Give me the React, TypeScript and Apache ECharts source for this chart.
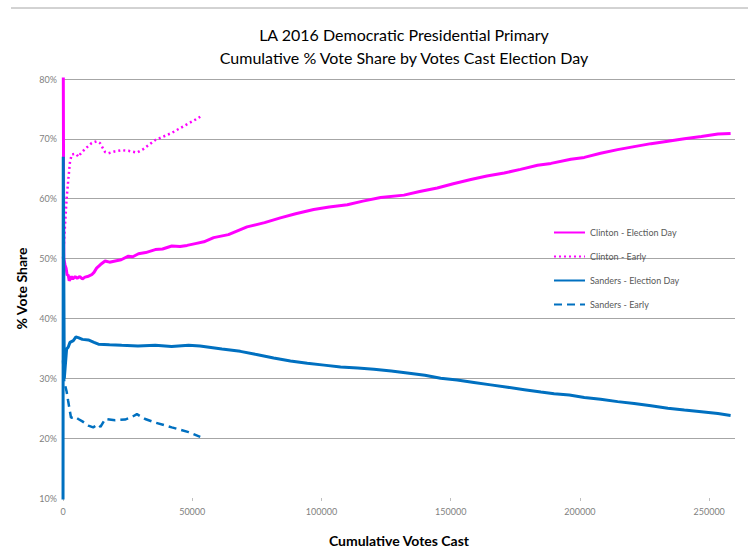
import React, { useEffect, useRef } from "react";
import * as echarts from "echarts";

const titleLines = [
  "LA 2016 Democratic Presidential Primary",
  "Cumulative % Vote Share by Votes Cast Election Day",
];
const yTicks = [10, 20, 30, 40, 50, 60, 70, 80];
const xTicks = [0, 50000, 100000, 150000, 200000, 250000];
const seriesNames = [
  "Clinton - Election Day",
  "Clinton - Early",
  "Sanders - Election Day",
  "Sanders - Early",
];

const clintonElectionDay: [number, number][] = [
  [0, 100], [300, 50], [800, 48.9], [1200, 48.4], [1600, 47.2], [2000, 47.3], [2400, 46.3],
  [2700, 46.5], [3300, 47.0], [3800, 46.6], [4700, 47.0], [5500, 46.7], [6500, 47.0],
  [7500, 46.6], [8500, 46.9], [9500, 47.0], [11100, 47.3], [12000, 47.7], [13000, 48.4],
  [14500, 49.0], [16300, 49.6], [18000, 49.4], [20200, 49.6], [22500, 49.8], [25300, 50.4],
  [27000, 50.3], [29200, 50.8], [32000, 51.0], [35700, 51.5], [38500, 51.6], [42100, 52.1],
  [45300, 52.0], [48000, 52.2], [51200, 52.5], [54500, 52.8], [58300, 53.5], [64000, 54.0],
  [71200, 55.3], [78000, 56.0], [84100, 56.8], [90000, 57.5], [97000, 58.2], [103000, 58.6],
  [110000, 59.0], [116000, 59.6], [122900, 60.2], [131900, 60.6], [138000, 61.2],
  [144800, 61.8], [151000, 62.5], [157800, 63.2], [164000, 63.8], [170700, 64.3],
  [177000, 64.9], [183600, 65.6], [188800, 65.9], [196500, 66.6], [201700, 66.9],
  [208000, 67.6], [214600, 68.2], [221000, 68.7], [227500, 69.2], [234000, 69.6],
  [240400, 70.0], [247000, 70.4], [253400, 70.8], [258300, 70.9],
];

const clintonEarly: [number, number][] = [
  [0, 50], [300, 52], [700, 55], [1400, 60], [2100, 63.4], [2700, 66.2], [3400, 67.4],
  [5000, 67.5], [6000, 67.0], [6600, 67.4], [8500, 68.3], [11100, 69.3], [13000, 69.6],
  [14300, 69.3], [16300, 67.8], [17600, 67.6], [20000, 67.9], [22700, 68.1], [25300, 68.0],
  [28600, 67.7], [31100, 68.3], [35700, 69.8], [42100, 71.0], [47000, 72.2], [51200, 73.2],
  [53100, 73.7],
];

const sandersElectionDay: [number, number][] = [
  [0, 0], [100, 67], [500, 30], [800, 31.6], [1400, 34.9], [2000, 35.2], [2700, 36.0],
  [4000, 36.3], [5000, 36.9], [5900, 36.8], [7500, 36.5], [9800, 36.4], [12000, 36.0],
  [13700, 35.7], [18000, 35.6], [22700, 35.5], [29000, 35.4], [35700, 35.5], [42000, 35.3],
  [48600, 35.5], [53000, 35.4], [61500, 34.9], [68600, 34.5], [74400, 34.0], [81500, 33.4],
  [88000, 32.9], [94500, 32.5], [101000, 32.2], [107400, 31.9], [114000, 31.7],
  [120300, 31.5], [127000, 31.2], [133200, 30.9], [140000, 30.5], [146100, 30.0],
  [152500, 29.7], [159000, 29.3], [165500, 28.9], [172000, 28.5], [178500, 28.1],
  [184900, 27.7], [190000, 27.4], [195900, 27.2], [201700, 26.8], [208000, 26.5],
  [214600, 26.1], [221000, 25.8], [227500, 25.4], [234000, 25.0], [240400, 24.7],
  [247000, 24.4], [253400, 24.1], [258300, 23.8],
];

const sandersEarly: [number, number][] = [
  [0, 33], [500, 29.4], [1000, 28.5], [1400, 27.8], [2000, 26.2], [3100, 23.4], [4500, 23.6],
  [5900, 23.2], [7500, 22.8], [9800, 22.1], [11700, 21.8], [13500, 22.3], [14500, 21.9],
  [16300, 23.2], [20200, 23.0], [24000, 23.1], [26500, 23.5], [28600, 24.0], [31800, 23.2],
  [35700, 22.6], [42100, 21.8], [48600, 21.0], [53100, 20.2],
];

const MAGENTA = "#FF00FF";
const BLUE = "#0070C0";
const FONT = "Lato, 'Open Sans', sans-serif";

export default function App() {
  const ref = useRef<HTMLDivElement>(null);
  useEffect(() => {
    if (!ref.current) return;
    const chart = echarts.init(ref.current, null, { renderer: "svg" });
    const gridColors = yTicks.map((_, i) => (i === 0 ? "rgba(0,0,0,0)" : "#a6a6a6"));
    chart.setOption({
      animation: false,
      backgroundColor: "#ffffff",
      textStyle: { fontFamily: FONT },
      title: {
        text: titleLines.join("\n"),
        left: 399,
        top: 18,
        textAlign: "center",
        textStyle: { fontFamily: FONT, fontSize: 16, fontWeight: "normal", color: "#000", lineHeight: 23 },
      },
      graphic: [
        { type: "line", shape: { x1: 11, y1: 8, x2: 748, y2: 8 }, style: { stroke: "#a6a6a6", lineWidth: 1 } },
      ],
      legend: {
        orient: "vertical",
        left: 548,
        top: 223,
        itemWidth: 31,
        itemHeight: 10,
        itemGap: 15,
        itemStyle: { color: "rgba(0,0,0,0)", borderWidth: 0, opacity: 0 },
        textStyle: { fontFamily: FONT, fontSize: 9, color: "#595959" },
        data: seriesNames,
      },
      grid: { left: 63, right: 13, top: 79, bottom: 47, containLabel: false },
      xAxis: {
        type: "value",
        min: 0,
        max: 260000,
        interval: 50000,
        name: "Cumulative Votes Cast",
        nameLocation: "middle",
        nameGap: 35,
        nameTextStyle: { fontFamily: FONT, fontSize: 14, fontWeight: "bold", color: "#000" },
        axisLine: { show: false },
        axisTick: { show: true, length: 3, lineStyle: { color: "#bfbfbf" } },
        axisLabel: {
          showMaxLabel: false,
          fontSize: 9,
          color: "#7f7f7f",
          margin: 9,
          formatter: (v: number) => (xTicks.includes(v) ? String(v) : ""),
        },
        splitLine: { show: false },
      },
      yAxis: {
        type: "value",
        min: 10,
        max: 80,
        interval: 10,
        name: "% Vote Share",
        nameLocation: "middle",
        nameGap: 33,
        nameRotate: 90,
        nameTextStyle: { fontFamily: FONT, fontSize: 14, fontWeight: "bold", color: "#000" },
        axisLine: { show: false },
        axisTick: { show: false },
        axisLabel: { fontSize: 9, color: "#7f7f7f", margin: 6, formatter: "{value}%" },
        splitLine: { show: true, lineStyle: { color: gridColors, width: 1 } },
      },
      series: [
        {
          name: seriesNames[0],
          type: "line",
          data: clintonElectionDay,
          symbol: "none",
          clip: true,
          lineStyle: { color: MAGENTA, width: 3 },
          itemStyle: { color: MAGENTA },
        },
        {
          name: seriesNames[1],
          type: "line",
          data: clintonEarly,
          symbol: "none",
          clip: true,
          lineStyle: { color: MAGENTA, width: 2.5, type: [2, 3] },
          itemStyle: { color: MAGENTA },
        },
        {
          name: seriesNames[2],
          type: "line",
          data: sandersElectionDay,
          symbol: "none",
          clip: true,
          lineStyle: { color: BLUE, width: 3 },
          itemStyle: { color: BLUE },
        },
        {
          name: seriesNames[3],
          type: "line",
          data: sandersEarly,
          symbol: "none",
          clip: true,
          lineStyle: { color: BLUE, width: 2.5, type: [8, 5] },
          itemStyle: { color: BLUE },
        },
      ],
    });
    return () => chart.dispose();
  }, []);
  return <div ref={ref} style={{ position: "absolute", left: 0, top: 0, width: 748, height: 552 }} />;
}
